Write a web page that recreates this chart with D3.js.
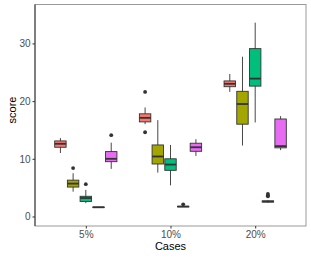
<!DOCTYPE html>
<html>
<head>
<meta charset="utf-8">
<script src="https://cdn.jsdelivr.net/npm/d3@7"></script>
<style>
  body { margin: 0; background: #fff; }
  text { font-family: "Liberation Sans", Arial, sans-serif; }
</style>
</head>
<body>
<div id="chart"></div>
<script>
var cases = ["5%", "10%", "20%"];
var groups = ["A", "B", "C", "D", "E"];
var colors = ["#F8766D", "#A3A500", "#00BF7D", "#00B0F6", "#E76BF3"];

// [lower whisker, q1, median, q3, upper whisker] per case, one list per group
var statsA = [[11.0, 12.0, 12.6, 13.1, 13.6], [16.0, 16.4, 17.1, 17.8, 18.9], [21.6, 22.5, 23.0, 23.5, 24.7]];
var statsB = [[4.3, 5.1, 5.7, 6.3, 7.5], [7.6, 9.1, 10.4, 12.4, 16.7], [12.3, 16.0, 19.5, 21.7, 27.7]];
var statsC = [[2.3, 2.6, 3.2, 3.5, 4.6], [5.4, 8.0, 9.0, 10.0, 12.4], [16.3, 22.6, 23.9, 29.1, 33.6]];
var statsD = [[1.55, 1.58, 1.6, 1.63, 1.66], [1.65, 1.68, 1.72, 1.76, 1.8], [2.4, 2.5, 2.6, 2.7, 2.8]];
var statsE = [[8.25, 9.5, 10.0, 11.25, 12.8], [10.5, 11.3, 12.0, 12.7, 13.4], [11.5, 11.9, 12.2, 16.9, 17.4]];

var outA = [[], [21.6, 14.6], []];
var outB = [[8.4], [], []];
var outC = [[5.6], [], []];
var outD = [[], [2.1], [3.5, 3.7, 3.9]];
var outE = [[14.1], [], []];

var yTicks = [0, 10, 20, 30];

var allStats = [statsA, statsB, statsC, statsD, statsE];
var allOut = [outA, outB, outC, outD, outE];

var W = 311, H = 259;
var pLeft = 35, pRight = 306, pTop = 4.5, pBottom = 226;

var svg = d3.select("#chart").append("svg")
    .attr("width", W)
    .attr("height", H);

var x = d3.scalePoint().domain(cases).range([pLeft, pRight]).padding(0.6);
var step = x.step();
var xsub = d3.scaleBand().domain(groups).range([-0.375 * step, 0.375 * step]);
var boxW = xsub.bandwidth() * 0.9;
var y = d3.scaleLinear().domain([-1.65, 36.75]).range([pBottom, pTop]);

// panel
svg.append("rect")
    .attr("x", pLeft).attr("y", pTop)
    .attr("width", pRight - pLeft).attr("height", pBottom - pTop)
    .attr("fill", "none").attr("stroke", "#999").attr("stroke-width", 1);

var g = svg.append("g");

allStats.forEach(function (stats, gi) {
    stats.forEach(function (s, ci) {
        var cx = x(cases[ci]) + xsub(groups[gi]) + xsub.bandwidth() / 2;
        // whiskers
        g.append("line")
            .attr("x1", cx).attr("x2", cx)
            .attr("y1", y(s[0])).attr("y2", y(s[4]))
            .attr("stroke", "#333").attr("stroke-width", 0.9);
        g.append("rect")
            .attr("x", cx - boxW / 2).attr("width", boxW)
            .attr("y", y(s[3])).attr("height", Math.max(y(s[1]) - y(s[3]), 0.5))
            .attr("fill", colors[gi]).attr("stroke", "#333").attr("stroke-width", 0.9);
        g.append("line")
            .attr("x1", cx - boxW / 2).attr("x2", cx + boxW / 2)
            .attr("y1", y(s[2])).attr("y2", y(s[2]))
            .attr("stroke", "#333").attr("stroke-width", 1.8);
        allOut[gi][ci].forEach(function (v) {
            g.append("circle")
                .attr("cx", cx).attr("cy", y(v)).attr("r", 1.9)
                .attr("fill", "#333");
        });
    });
});

// left axis line
svg.append("line")
    .attr("x1", pLeft).attr("x2", pLeft).attr("y1", pTop).attr("y2", pBottom)
    .attr("stroke", "#333").attr("stroke-width", 1);

var yAxis = svg.append("g")
    .attr("transform", "translate(" + pLeft + ",0)")
    .call(d3.axisLeft(y).tickValues(yTicks).tickSize(2.5).tickPadding(2));
yAxis.select(".domain").remove();
yAxis.selectAll("line").attr("stroke", "#333");
yAxis.selectAll("text").attr("fill", "#4D4D4D").style("font-size", "10px");

var xAxis = svg.append("g")
    .attr("transform", "translate(0," + pBottom + ")")
    .call(d3.axisBottom(x).tickSize(2.5).tickPadding(2));
xAxis.select(".domain").remove();
xAxis.selectAll("line").attr("stroke", "#333");
xAxis.selectAll("text").attr("fill", "#4D4D4D").style("font-size", "10px");

svg.append("text")
    .attr("x", (pLeft + pRight) / 2).attr("y", 250)
    .attr("text-anchor", "middle")
    .style("font-size", "11px")
    .text("Cases");

svg.append("text")
    .attr("transform", "translate(15.5,110) rotate(-90)")
    .attr("text-anchor", "middle")
    .style("font-size", "11px")
    .text("score");
</script>
</body>
</html>
